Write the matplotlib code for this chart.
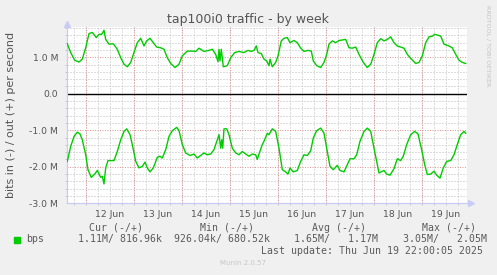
import numpy as np
import matplotlib
matplotlib.use('Agg')
import matplotlib.pyplot as plt
from matplotlib.patches import Rectangle
from matplotlib.ticker import MultipleLocator

# Zeit in Stunden ab 12 Jun 00:00, Werte in Mbit/s
out_hours = [-9.2, -7.5, -5.5, -3.35, -1.7, 0, 1.65, 3.3, 5.3, 6.65, 8, 9.15, 10, 11.65,
             13.8, 15.8, 17.5, 19.15, 20.8, 22.5, 24.15, 25.8, 27.5, 29.15, 30.5, 32.15,
             33.8, 35.5, 37.5, 39.15, 40.8, 42.5, 44.65, 46.65, 48.3, 50.8, 53.3, 55,
             56.65, 59.15, 61.65, 63.3, 65, 66.15, 66.65, 67.15, 67.8, 68.8, 70.8, 72.5,
             74.5, 76.65, 79.15, 81.15, 82.8, 84.15, 85.3, 86.15, 87.8, 89.15, 90.5,
             91.65, 92.15, 93.3, 95, 96.15, 97.8, 99.15, 100.8, 102.15, 104.15, 105.8,
             107.5, 109.15, 111.15, 112.8, 113.8, 115.5, 117.5, 119.15, 120.5, 121.65,
             123.3, 125, 126.65, 130, 131.65, 133.3, 135, 136.65, 138.8, 140.8, 142.5,
             144.15, 145.8, 147.5, 149.15, 150.8, 152.5, 154.15, 155.8, 157.5, 159.15,
             160.8, 162.5, 165, 166.65, 168.3, 170, 171.65, 173.3, 174.5, 175.8, 177.5,
             179.15, 181.65, 183.3, 185, 186.65, 188.3, 190]
out_mbit = [1.37, 1.13, 0.92, 0.87, 0.95, 1.26, 1.65, 1.68, 1.54, 1.63, 1.63, 1.74, 1.49, 1.36,
            1.37, 1.22, 0.99, 0.81, 0.74, 0.86, 1.13, 1.40, 1.52, 1.31, 1.45, 1.52,
            1.40, 1.28, 1.26, 1.22, 0.99, 0.83, 0.72, 0.81, 1.04, 1.17, 1.17, 1.16,
            1.25, 1.16, 1.19, 1.22, 1.08, 0.88, 1.22, 0.90, 1.22, 0.74, 0.77, 0.99,
            1.13, 1.16, 1.13, 1.19, 1.16, 1.19, 1.31, 1.13, 1.10, 0.95, 0.90,
            0.77, 0.95, 0.74, 0.86, 1.04, 1.45, 1.52, 1.54, 1.40, 1.46, 1.40,
            1.25, 1.16, 1.19, 1.17, 0.90, 0.77, 0.72, 0.86, 1.08, 1.36,
            1.45, 1.40, 1.46, 1.49, 1.26, 1.25, 1.28, 1.08, 0.86, 0.72, 0.81,
            1.08, 1.40, 1.51, 1.45, 1.49, 1.56, 1.40, 1.31, 1.28, 1.25,
            1.08, 0.97, 0.83, 0.86, 1.04, 1.40, 1.56, 1.58, 1.63, 1.61, 1.58,
            1.36, 1.31, 1.26, 1.08, 0.92, 0.86, 0.83]

in_hours = [-9.2, -7.5, -5.85, -4.2, -2.85, -1.7, 0, 1.15, 2.8, 4.5, 5.8, 7.5, 8.3, 9.15,
            10, 11.15, 12.5, 14.15, 15.8, 17.5, 19.15, 20.5, 22.15, 23.3, 25, 26.65,
            28.3, 29.65, 30.8, 32.15, 33.8, 35.8, 37.15, 38.3, 40, 41.65, 43.3, 45.5,
            46.65, 48.3, 50, 52.15, 54.15, 55.8, 57.5, 59.15, 60.8, 62.5, 64.15, 65.8,
            66.65, 67.5, 68, 68.5, 69.15, 70.5, 71.65, 73.3, 75, 76.65, 78.3, 80,
            81.65, 83.3, 85, 85.8, 86.65, 88.3, 89.15, 90.8, 91.65, 93.3, 95, 96.65,
            98.3, 100, 101.15, 102.15, 103.8, 105.8, 107.5, 109.15, 110.8, 112.5,
            113.8, 115.5, 117.5, 119.15, 120.5, 122.15, 123.8, 125.8, 127.15, 129.15,
            130.8, 132.15, 134.15, 135.5, 137.15, 139.15, 140.8, 142.5, 144.15, 146.65,
            149.15, 150.5, 152.15, 154.15, 155.8, 157.5, 158.8, 160.5, 162.5, 164.5,
            166.15, 167.8, 169.5, 170.8, 172.5, 174.15, 175.5, 177.15, 178.8, 180.5,
            182.5, 184.15, 185.8, 187.5, 189.15, 190]
in_mbit = [1.85, 1.44, 1.17, 1.05, 1.10, 1.26, 1.67, 2.08, 2.29, 2.20, 2.10, 2.29, 2.26, 2.47,
           2.03, 1.83, 1.83, 1.83, 1.58, 1.26, 1.03, 0.96, 1.12, 1.39, 1.85, 2.03,
           1.99, 1.87, 2.03, 2.14, 2.03, 1.74, 1.71, 1.76, 1.53, 1.17, 1.01, 0.92,
           1.01, 1.39, 1.62, 1.69, 1.65, 1.76, 1.69, 1.62, 1.67, 1.65, 1.53, 1.26,
           1.12, 1.49, 1.26, 1.49, 0.96, 0.96, 1.12, 1.49, 1.62, 1.67, 1.58, 1.65,
           1.71, 1.65, 1.67, 1.80, 1.65, 1.39, 1.30, 1.08, 1.12, 0.96, 1.03, 1.49,
           2.08, 2.14, 2.20, 2.03, 2.14, 2.10, 1.85, 1.67, 1.69, 1.56,
           1.21, 1.01, 0.94, 1.08, 1.49, 1.99, 2.08, 1.96, 2.10, 2.14,
           1.94, 1.78, 1.78, 1.67, 1.30, 1.03, 0.94, 1.03, 1.49, 2.17,
           2.10, 2.20, 2.23, 2.05, 1.78, 1.83, 1.71, 1.39, 1.12, 1.03,
           1.10, 1.49, 1.94, 2.21, 2.20, 2.12, 2.23, 2.31, 2.03, 1.85,
           1.83, 1.67, 1.39, 1.12, 1.03, 1.08]

day_labels = ['12 Jun', '13 Jun', '14 Jun', '15 Jun', '16 Jun', '17 Jun', '18 Jun', '19 Jun']
y_ticks = [-3, -2, -1, 0, 1]
y_labels = ['-3.0 M', '-2.0 M', '-1.0 M', '0.0', '1.0 M']

legend_heads = ['Cur (-/+)', 'Min (-/+)', 'Avg (-/+)', 'Max (-/+)']
legend_vals = ['1.11M/ 816.96k', '926.04k/ 680.52k', '1.65M/   1.17M', '3.05M/   2.05M']

W, H = 497, 275
grey = '#555555'
green = '#00cc00'

fig = plt.figure(figsize=(W / 100, H / 100), dpi=100, facecolor='#f0f0f0')
ax = fig.add_axes([66.7 / W, 1 - 203.3 / H, 400 / W, 176.3 / H])
ax.set_facecolor('white')

# Gitter
ax.xaxis.remove_overlapping_locs = False
ax.xaxis.set_minor_locator(MultipleLocator(6))
ax.yaxis.set_minor_locator(MultipleLocator(0.2))
ax.grid(which='minor', color='#bdbdbd', linestyle=(0, (1, 2)), linewidth=0.72)
ax.grid(which='major', axis='y', color='#e09898', linestyle=(0, (1, 1.5)), linewidth=0.72)
for d in range(len(day_labels)):
    ax.axvline(24 * d, color='#e09898', linestyle=(0, (1, 1.5)), linewidth=0.72, zorder=1)
ax.set_axisbelow(True)
ax.axhline(0, color='black', linewidth=1.0, zorder=2)

ax.plot(out_hours, out_mbit, color=green, linewidth=1.0, zorder=3)
ax.plot(in_hours, -np.array(in_mbit), color=green, linewidth=1.0, zorder=3)

ax.set_xlim(-9.5, 190.5)
ax.set_ylim(-3.0, 1.83)
ax.set_xticks([24 * d + 12 for d in range(len(day_labels))], day_labels)
ax.set_yticks(y_ticks, y_labels)
ax.tick_params(which='major', length=0, labelsize=6.7, labelcolor=grey)
ax.tick_params(axis='x', which='major', pad=5)
ax.tick_params(axis='y', which='major', pad=6)
ax.tick_params(which='minor', length=1.5, color='#bdbdbd')

for s in ['top', 'right']:
    ax.spines[s].set_visible(False)
for s in ['left', 'bottom']:
    ax.spines[s].set_color('#c8ccf4')
    ax.spines[s].set_linewidth(0.9)
ax.plot([0], [1.017], marker='^', color='#c8ccf4', markersize=4.5, transform=ax.transAxes, clip_on=False)
ax.plot([1.010], [0], marker='>', color='#c8ccf4', markersize=4.5, transform=ax.transAxes, clip_on=False)


def ftext(x, y, s, **kw):
    fig.text(x / W, 1 - y / H, s, **kw)


ftext(248, 20, 'tap100i0 traffic - by week', ha='center', va='center', fontsize=9, color=grey)
ftext(11, 115, 'bits in (-) / out (+) per second', ha='center', va='center',
      rotation=90, fontsize=8, color=grey)
ftext(488, 5, 'RRDTOOL / TOBI OETIKER', ha='center', va='top', rotation=270,
      fontsize=4.6, color='#c4c4c4')

mono = dict(family='DejaVu Sans Mono', fontsize=7.1, color='#5a5a5a', va='center', ha='left')
for x, s in zip([89.3, 201, 312.3, 422.7], legend_heads):
    ftext(x - 0.5, 227.7, s, **mono)
for x, s in zip([78.3, 174, 295, 403.3], legend_vals):
    ftext(x - 0.5, 239.3, s, **mono)
ftext(26.2, 239.3, 'bps', **mono)
fig.patches.append(Rectangle((14 / W, 1 - 242.7 / H), 6 / W, 6 / H,
                             transform=fig.transFigure, color=green))
ftext(261.2, 251, 'Last update: Thu Jun 19 22:00:05 2025', **mono)
ftext(243, 263.3, 'Munin 2.0.57', ha='center', va='center', fontsize=5, color='#c8c8c8')

fig.savefig('out.png', dpi=100, facecolor=fig.get_facecolor())
